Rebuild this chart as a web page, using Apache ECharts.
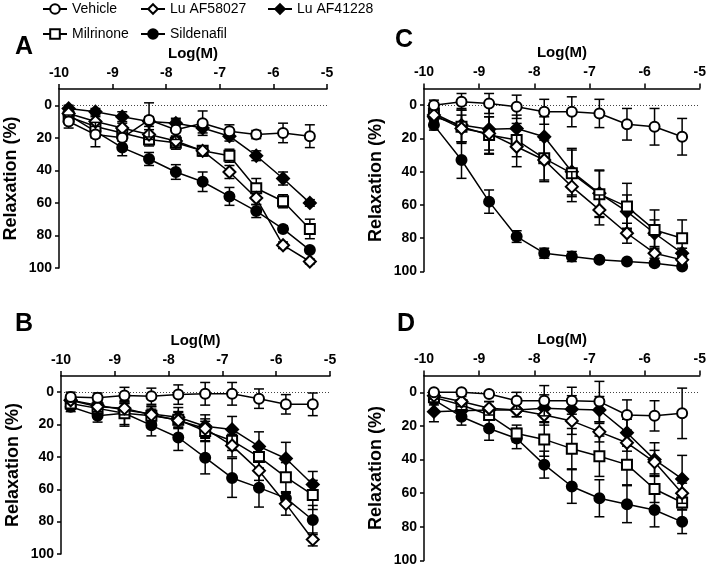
<!DOCTYPE html>
<html>
<head>
<meta charset="utf-8">
<script src="https://cdn.jsdelivr.net/npm/echarts@6/dist/echarts.min.js"></script>
<style>
html,body{margin:0;padding:0;background:#fff;}
#chart{width:709px;height:568px;}
</style>
</head>
<body>
<div id="chart"></div>
<script>
// ---- data ----
const logConc = [-9.82, -9.32, -8.82, -8.32, -7.82, -7.32, -6.82, -6.32, -5.82, -5.32];
const yTickValues = [0, 20, 40, 60, 80, 100];
const seriesNames = ['Vehicle', 'Lu AF58027', 'Lu AF41228', 'Milrinone', 'Sildenafil'];
const panelLabels = ['A', 'B', 'C', 'D'];

// Panel A
const aVehicle = [10, 18, 20, 9, 15, 11, 16, 18, 17, 19];
const aVehicleErr = [4, 7.5, 2, 10.5, 6, 7.5, 4, 2.5, 6, 7];
const aLuAF58027 = [5, 10, 14, 18, 22, 28, 41, 57, 86, 96];
const aLuAF58027Err = [2, 3, 3, 3, 3, 3, 4, 4, 2, 1.5];
const aLuAF41228 = [2, 4, 7, 10, 11, 14, 19, 31, 45, 60];
const aLuAF41228Err = [2, 2, 3, 3, 3, 3, 3, 3, 4, 2];
const aMilrinone = [7, 13, 17, 21, 23, 28, 31, 51, 59, 76];
const aMilrinoneErr = [3, 4, 3, 4, 4, 3, 4, 6, 4, 6];
const aSildenafil = [6, 16, 26, 33, 41, 47, 56, 65, 76, 89];
const aSildenafilErr = [3, 4, 5, 4, 4.5, 6, 5.5, 4, 2, 1.5];

// Panel B
const bVehicle = [3, 3.5, 2, 2.5, 1.5, 1, 1, 4, 7.5, 7.5];
const bVehicleErr = [3, 3, 5, 5, 6, 7, 7, 6, 6, 7];
const bLuAF58027 = [5, 9, 10, 14, 17.5, 22.5, 33, 48.5, 69, 91];
const bLuAF58027Err = [2, 3, 4, 5, 5, 6, 7, 6, 7, 4];
const bLuAF41228 = [5, 8, 11, 13.5, 15.5, 21, 23, 33.5, 41, 57];
const bLuAF41228Err = [3, 3, 4, 5, 6, 7, 8, 9, 10, 8];
const bMilrinone = [7, 10, 13, 14.5, 17, 24, 30, 40, 52.5, 63.5];
const bMilrinoneErr = [3, 4, 8, 4, 5, 6, 6, 7, 9, 9];
const bSildenafil = [9, 14.5, 13, 20.5, 28, 40.5, 53, 59, 65.5, 79];
const bSildenafilErr = [3, 4, 7, 6.5, 8, 10, 12, 12, 3, 9];

// Panel C
const cVehicle = [0, -2, -1, 1, 4, 4, 5, 11.5, 13, 19];
const cVehicleErr = [3, 5, 6, 7, 7.5, 9, 8.5, 9.5, 11, 11];
const cLuAF58027 = [6, 14, 17, 25, 33, 49, 63, 77, 89, 93];
const cLuAF58027Err = [4, 8, 10, 12, 12, 9, 9, 6, 3, 2];
const cLuAF41228 = [7, 12, 14.5, 14, 19, 40, 53, 64, 77, 89];
const cLuAF41228Err = [5, 10, 15, 8, 12, 14, 14, 10, 8, 3];
const cMilrinone = [5, 13, 18, 21, 32, 41, 53.5, 61, 75, 80];
const cMilrinoneErr = [4, 10, 11, 10, 14, 14, 14, 14, 12, 11];
const cSildenafil = [12, 33, 58, 79, 89, 91, 93, 94, 95, 97];
const cSildenafilErr = [3, 11, 7, 3.5, 3, 3, 1, 1, 1, 1];

// Panel D
const dVehicle = [0, 0, 1, 5, 5, 5, 5.5, 13.5, 14, 12.5];
const dVehicleErr = [1, 1, 1.5, 5, 9, 8, 12, 9, 9, 15];
const dLuAF58027 = [2, 5.5, 9.5, 10.5, 13.5, 17, 23.5, 30, 41.5, 60];
const dLuAF58027Err = [2, 3, 4, 4, 6, 8, 6, 5, 7, 6];
const dLuAF41228 = [11.5, 11, 10.5, 10.5, 9.5, 10, 10.5, 24, 40, 51.5];
const dLuAF41228Err = [6, 5, 5, 4, 8, 8, 8, 8, 10, 14];
const dMilrinone = [3, 7.5, 13.5, 24.5, 28, 33.5, 38, 43, 57.5, 65.5];
const dMilrinoneErr = [2, 3, 3, 5, 10, 12, 12, 12, 8, 4];
const dSildenafil = [4.5, 14.5, 21.5, 27.5, 43, 56, 63, 66.5, 70, 77];
const dSildenafilErr = [3, 5, 7, 6, 8, 10, 11, 11, 10, 7];

const panelData = [
  {mean: [aVehicle, aLuAF58027, aLuAF41228, aMilrinone, aSildenafil], err: [aVehicleErr, aLuAF58027Err, aLuAF41228Err, aMilrinoneErr, aSildenafilErr]},
  {mean: [bVehicle, bLuAF58027, bLuAF41228, bMilrinone, bSildenafil], err: [bVehicleErr, bLuAF58027Err, bLuAF41228Err, bMilrinoneErr, bSildenafilErr]},
  {mean: [cVehicle, cLuAF58027, cLuAF41228, cMilrinone, cSildenafil], err: [cVehicleErr, cLuAF58027Err, cLuAF41228Err, cMilrinoneErr, cSildenafilErr]},
  {mean: [dVehicle, dLuAF58027, dLuAF41228, dMilrinone, dSildenafil], err: [dVehicleErr, dLuAF58027Err, dLuAF41228Err, dMilrinoneErr, dSildenafilErr]}
];

// ---- styles ----
const FONT = '"Liberation Sans", Arial, sans-serif';
const styles = [
  {symbol: 'circle', size: 10, fill: '#fff', z: 10},   // Vehicle
  {symbol: 'diamond', size: 12, fill: '#fff', z: 8},   // Lu AF58027
  {symbol: 'diamond', size: 12, fill: '#000', z: 6},   // Lu AF41228
  {symbol: 'rect', size: 10, fill: '#fff', z: 7},      // Milrinone
  {symbol: 'circle', size: 10, fill: '#000', z: 5}     // Sildenafil
];
const grids = [
  {left: 59, top: 89, width: 268, height: 179},
  {left: 61, top: 376, width: 269, height: 178},
  {left: 424, top: 88.5, width: 277, height: 183},
  {left: 424, top: 375.5, width: 276, height: 185}
];
const letterPos = [[24, 47], [24, 324], [404, 40], [406, 324]];

const xAxes = [], yAxes = [], series = [];
grids.forEach((g, gi) => {
  xAxes.push({
    gridIndex: gi, type: 'value', position: 'top', min: -10, max: -5, interval: 1,
    name: 'Log(M)', nameLocation: 'middle', nameGap: 28,
    nameTextStyle: {fontFamily: FONT, fontWeight: 'bold', fontSize: 15, color: '#000'},
    axisLine: {onZero: false, lineStyle: {color: '#000', width: 1.5}},
    axisTick: {length: 5, lineStyle: {color: '#000', width: 1.5}},
    axisLabel: {fontFamily: FONT, fontWeight: 'bold', fontSize: 14, color: '#000', margin: 9},
    splitLine: {show: false}
  });
  yAxes.push({
    gridIndex: gi, type: 'value', inverse: true, min: -10, max: 100,
    name: 'Relaxation (%)', nameLocation: 'middle', nameGap: 39,
    nameTextStyle: {fontFamily: FONT, fontWeight: 'bold', fontSize: 18, color: '#000'},
    axisLine: {show: true, onZero: false, lineStyle: {color: '#000', width: 1.5}},
    axisTick: {show: true, length: 4, customValues: yTickValues, lineStyle: {color: '#000', width: 1.5}},
    axisLabel: {customValues: yTickValues, fontFamily: FONT, fontWeight: 'bold', fontSize: 14, color: '#000', margin: 7},
    splitLine: {show: false}
  });
  const pd = panelData[gi];
  seriesNames.forEach((name, si) => {
    const st = styles[si];
    const mean = pd.mean[si], err = pd.err[si];
    const s = {
      type: 'line', name: name, xAxisIndex: gi, yAxisIndex: gi,
      data: logConc.map((x, k) => [x, mean[k]]),
      symbol: st.symbol, symbolSize: st.size, showSymbol: true,
      lineStyle: {color: '#000', width: 1.5},
      itemStyle: {color: st.fill, borderColor: '#000', borderWidth: 2},
      z: st.z, animation: false, silent: true
    };
    if (si === 4) {
      s.markLine = {
        silent: true, symbol: ['none', 'none'], label: {show: false},
        lineStyle: {color: '#444', type: [1, 2], width: 1},
        data: [{yAxis: 0}], z: 1
      };
    }
    series.push(s);
    series.push({
      type: 'custom', name: name + ' SEM', xAxisIndex: gi, yAxisIndex: gi,
      data: logConc.map((x, k) => [x, mean[k] - err[k], mean[k] + err[k]]),
      encode: {x: 0, y: [1, 2]},
      z: st.z - 0.5, animation: false, silent: true,
      renderItem: function (params, api) {
        const x = api.value(0);
        const p1 = api.coord([x, api.value(1)]);
        const p2 = api.coord([x, api.value(2)]);
        const hw = 5;
        const ls = {stroke: '#000', lineWidth: 1.5};
        return {
          type: 'group',
          children: [
            {type: 'line', shape: {x1: p1[0], y1: p1[1], x2: p2[0], y2: p2[1]}, style: ls},
            {type: 'line', shape: {x1: p1[0] - hw, y1: p1[1], x2: p1[0] + hw, y2: p1[1]}, style: ls},
            {type: 'line', shape: {x1: p2[0] - hw, y1: p2[1], x2: p2[0] + hw, y2: p2[1]}, style: ls}
          ]
        };
      }
    });
  });
});

const legendPos = [[42, 2], [140, 2], [267, 2], [42, 27], [140, 27]];
const legends = seriesNames.map((name, i) => ({
  data: [name], left: legendPos[i][0], top: legendPos[i][1], padding: 0,
  itemWidth: 24, itemHeight: 12, selectedMode: false,
  textStyle: {fontFamily: FONT, fontSize: 14, color: '#000'}
}));

const graphics = panelLabels.map((t, i) => ({
  type: 'text', x: letterPos[i][0], y: letterPos[i][1],
  style: {text: t, font: 'bold 25px ' + FONT, fill: '#000', align: 'center', verticalAlign: 'middle'}
}));

const chart = echarts.init(document.getElementById('chart'), null, {renderer: 'canvas'});
chart.setOption({
  animation: false,
  backgroundColor: '#fff',
  grid: grids,
  xAxis: xAxes,
  yAxis: yAxes,
  legend: legends,
  graphic: graphics,
  series: series
});
</script>
</body>
</html>
